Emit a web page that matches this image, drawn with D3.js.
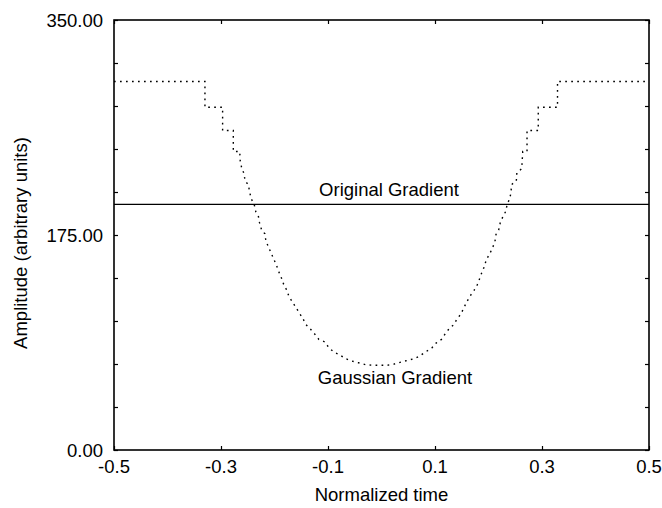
<!DOCTYPE html>
<html>
<head>
<meta charset="utf-8">
<script src="https://cdn.jsdelivr.net/npm/d3@7"></script>
<style>
	body { margin: 0; background: #fff; }
	text { font-family: "Liberation Sans", Arial, Helvetica, sans-serif; fill: #000; }
</style>
</head>
<body>
<svg id="chart"></svg>
<script>
// normalized time / amplitude of the gaussian gradient
const gaussTime = [-0.5, -0.330, -0.330, -0.297, -0.297, -0.277, -0.277, -0.265, -0.264, -0.261, -0.257, -0.255,
	-0.249, -0.246, -0.243, -0.238, -0.235, -0.230, -0.228, -0.224, -0.218, -0.216, -0.211, -0.206, -0.201,
	-0.196, -0.192, -0.187, -0.183, -0.177, -0.173, -0.160, -0.147, -0.141, -0.133, -0.126, -0.117, -0.106,
	-0.098, -0.088, -0.078, -0.068, -0.056, -0.043, -0.030, -0.016, -0.003, 0.011, 0.024, 0.036, 0.049, 0.063,
	0.073, 0.083, 0.094, 0.102, 0.112, 0.119, 0.126, 0.135, 0.141, 0.149, 0.153, 0.160, 0.166, 0.173, 0.179,
	0.183, 0.188, 0.192, 0.196, 0.202, 0.207, 0.212, 0.214, 0.219, 0.222, 0.227, 0.232, 0.235, 0.239, 0.242,
	0.243, 0.252, 0.253, 0.262, 0.263, 0.264, 0.272, 0.272, 0.293, 0.293, 0.329, 0.329, 0.5];
const gaussAmp = [300, 300, 279, 279, 260, 260, 243, 243, 235, 229, 225, 219,
	216, 209, 204, 200, 194, 190, 185, 179, 176, 170, 165, 160, 155,
	150, 145, 140, 135, 130, 125, 116, 107, 102, 98.5, 95, 90, 88,
	83, 79.5, 77.5, 74.5, 72.5, 71, 69.5, 69, 69, 69, 70, 71.5, 73, 74.5,
	77, 80, 83, 87, 90, 94.5, 98.5, 102, 106.5, 111, 115, 121, 125.5, 130, 134.5,
	139, 145, 149, 155, 159.5, 164, 169.5, 175.5, 179, 185, 190, 194, 200, 204, 209,
	216, 219, 225.5, 229, 235.5, 243, 243, 260, 260, 279, 279, 300, 300];
const originalAmp = 200;

const xTicks = [-0.5, -0.3, -0.1, 0.1, 0.3, 0.5];
const yLabelTicks = [0, 175, 350];
const yMinorTicks = [0, 35, 70, 105, 140, 175, 210, 245, 280, 315, 350];

const width = 662;
const height = 508;
const margin = {top: 20, right: 13, bottom: 58, left: 114};
const fontSize = 18.5;

const svg = d3.select("#chart")
	.attr("width", width)
	.attr("height", height);

svg.append("rect")
	.attr("width", width)
	.attr("height", height)
	.attr("fill", "#fff");

const x = d3.scaleLinear()
	.domain([-0.5, 0.5])
	.range([margin.left, width - margin.right]);
const y = d3.scaleLinear()
	.domain([0, 350])
	.range([height - margin.bottom, margin.top]);

// ticks all point inwards, on all four sides
const tickLen = 4;
svg.append("g")
	.attr("transform", `translate(0,${y(0)})`)
	.call(d3.axisTop(x).tickValues(xTicks).tickSize(tickLen).tickFormat(""))
	.call(g => g.select(".domain").remove());
svg.append("g")
	.attr("transform", `translate(0,${y(350)})`)
	.call(d3.axisBottom(x).tickValues(xTicks).tickSize(tickLen).tickFormat(""))
	.call(g => g.select(".domain").remove());
svg.append("g")
	.attr("transform", `translate(${x(-0.5)},0)`)
	.call(d3.axisRight(y).tickValues(yMinorTicks).tickSize(tickLen).tickFormat(""))
	.call(g => g.select(".domain").remove());
svg.append("g")
	.attr("transform", `translate(${x(0.5)},0)`)
	.call(d3.axisLeft(y).tickValues(yMinorTicks).tickSize(tickLen).tickFormat(""))
	.call(g => g.select(".domain").remove());
svg.selectAll(".tick line")
	.attr("stroke", "#000")
	.attr("stroke-width", 1.2);

// tick labels (plain hyphen for negatives, as in the original)
svg.append("g")
	.selectAll("text")
	.data(xTicks)
	.enter()
	.append("text")
	.attr("x", d => x(d))
	.attr("y", y(0) + 23)
	.attr("text-anchor", "middle")
	.style("font-size", fontSize + "px")
	.text(d => d.toFixed(1));

svg.append("g")
	.selectAll("text")
	.data(yLabelTicks)
	.enter()
	.append("text")
	.attr("x", x(-0.5) - 11)
	.attr("y", d => y(d))
	.attr("dy", "0.36em")
	.attr("text-anchor", "end")
	.style("font-size", fontSize + "px")
	.text(d => d.toFixed(2));

// frame
svg.append("rect")
	.attr("x", x(-0.5))
	.attr("y", y(350))
	.attr("width", x(0.5) - x(-0.5))
	.attr("height", y(0) - y(350))
	.attr("fill", "none")
	.attr("stroke", "#000")
	.attr("stroke-width", 1.6);

// original gradient: flat line
svg.append("line")
	.attr("x1", x(-0.5))
	.attr("x2", x(0.5))
	.attr("y1", y(originalAmp))
	.attr("y2", y(originalAmp))
	.attr("stroke", "#000")
	.attr("stroke-width", 1.3);

// gaussian gradient: dotted
const line = d3.line()
	.x(d => x(d[0]))
	.y(d => y(d[1]));

svg.append("path")
	.datum(d3.zip(gaussTime, gaussAmp))
	.attr("fill", "none")
	.attr("stroke", "#000")
	.attr("stroke-width", 1.4)
	.attr("stroke-dasharray", "1.7,4.3")
	.attr("d", line);

// annotations
svg.append("text")
	.attr("x", 389)
	.attr("y", y(originalAmp) - 8)
	.attr("text-anchor", "middle")
	.style("font-size", fontSize + "px")
	.text("Original Gradient");

svg.append("text")
	.attr("x", 395)
	.attr("y", 384)
	.attr("text-anchor", "middle")
	.style("font-size", fontSize + "px")
	.text("Gaussian Gradient");

// axis titles
svg.append("text")
	.attr("x", x(0))
	.attr("y", 501)
	.attr("text-anchor", "middle")
	.style("font-size", fontSize + "px")
	.text("Normalized time");

svg.append("text")
	.attr("transform", `translate(27,${(y(0) + y(350)) / 2 + 8}) rotate(-90)`)
	.attr("text-anchor", "middle")
	.style("font-size", fontSize + "px")
	.text("Amplitude (arbitrary units)");
</script>
</body>
</html>
